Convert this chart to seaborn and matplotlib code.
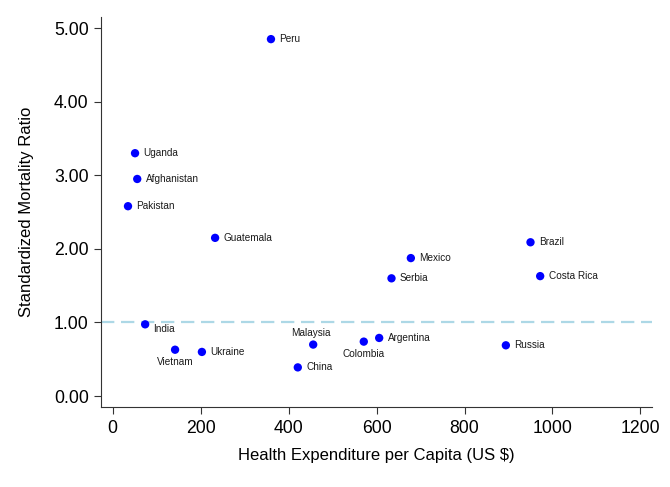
import pandas as pd
import matplotlib
matplotlib.use('Agg')
import matplotlib.pyplot as plt
import seaborn as sns

countries = ['Peru', 'Uganda', 'Afghanistan', 'Pakistan', 'Guatemala', 'Brazil',
             'Mexico', 'Serbia', 'Costa Rica', 'India', 'Vietnam', 'Ukraine',
             'China', 'Malaysia', 'Colombia', 'Argentina', 'Russia']
spending = [360, 51, 56, 35, 233, 950, 678, 634, 972, 74, 142, 203, 421, 456, 571, 606, 894]
smr = [4.85, 3.30, 2.95, 2.58, 2.15, 2.09, 1.875, 1.60, 1.63, 0.975, 0.63, 0.60,
       0.39, 0.70, 0.74, 0.79, 0.69]
# label position, clock style like stata mlabposition
label_pos = [3, 3, 3, 3, 3, 3, 3, 3, 3, 4, 6, 3, 3, 12, 6, 3, 3]

df = pd.DataFrame({'country': countries, 'spend': spending, 'smr': smr, 'pos': label_pos})

sns.set_style('white')
plt.rcParams['font.family'] = ['Liberation Sans', 'DejaVu Sans']
plt.rcParams['text.color'] = 'black'
plt.rcParams['axes.labelcolor'] = 'black'
plt.rcParams['xtick.color'] = 'black'
plt.rcParams['ytick.color'] = 'black'

fig = plt.figure(figsize=(6.7, 4.87), dpi=100)
ax = fig.add_axes([0.151, 0.164, 0.822, 0.801])

ax.axhline(1, color='#add8e6', lw=1.6, ls=(0, (6, 3)), zorder=1)
sns.scatterplot(data=df, x='spend', y='smr', color='#0000ff', s=36,
                edgecolor='none', ax=ax, zorder=3)

offsets = {3: ((6, 0), 'left', 'center'),
           4: ((6, -3.6), 'left', 'center'),
           6: ((0, -5), 'center', 'top'),
           12: ((-2, 5), 'center', 'bottom')}
for _, r in df.iterrows():
    off, ha, va = offsets[r['pos']]
    ax.annotate(r['country'], (r['spend'], r['smr']), xytext=off,
                textcoords='offset points', ha=ha, va=va, fontsize=7.2, color='#1a1a1a')

ax.set_xlim(-26, 1226)
ax.set_ylim(-0.15, 5.15)
ax.set_xticks([0, 200, 400, 600, 800, 1000, 1200])
ax.set_yticks([0, 1, 2, 3, 4, 5])
ax.set_yticklabels(['%.2f' % v for v in [0, 1, 2, 3, 4, 5]])
ax.tick_params(axis='both', labelsize=12.7, length=5, width=0.8, color='#333333',
               direction='out', bottom=True, left=True, pad=4)
ax.set_xlabel('Health Expenditure per Capita (US $)', fontsize=12, labelpad=8)
ax.set_ylabel('Standardized Mortality Ratio', fontsize=12, labelpad=14)

sns.despine(ax=ax)
for sp in ['left', 'bottom']:
    ax.spines[sp].set_color('#333333')
    ax.spines[sp].set_linewidth(0.8)

fig.savefig('out.png', dpi=100)
